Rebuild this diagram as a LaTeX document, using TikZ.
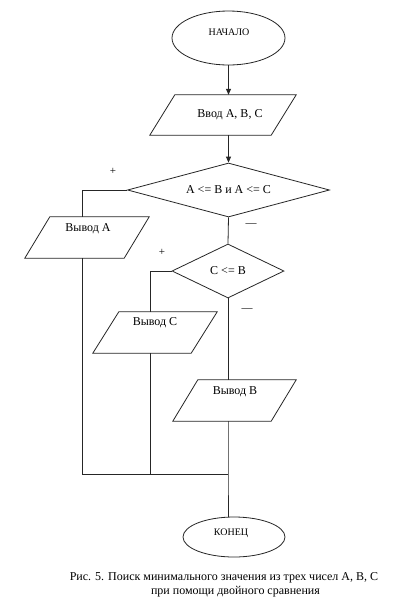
\documentclass[tikz,border=0pt]{standalone}
\usepackage{fontspec}
\setmainfont{Liberation Serif}
\usetikzlibrary{shapes.geometric,arrows.meta,calc}
\newcommand{\drawpara}[2]{\draw[ln] ([xshift=#2]#1.north west) -- (#1.north east) -- ([xshift=-#2]#1.south east) -- (#1.south west) -- cycle;}
\begin{document}
\begin{tikzpicture}[x=1pt,y=-1pt,
  ln/.style={draw=black!85,line width=0.8pt},
  arr/.style={ln,-{Triangle[length=6pt,width=5pt]}},
  term/.style={ellipse,ln,inner sep=0pt},
  iobox/.style={rectangle,draw=none,inner sep=0pt,minimum height=41pt},
  decbox/.style={diamond,ln,inner sep=0pt,font=\fontsize{12}{14}\selectfont},
  txt/.style={inner sep=0pt,font=\fontsize{12}{14}\selectfont},
  smalltxt/.style={inner sep=0pt,font=\fontsize{10}{12}\selectfont},
  sign/.style={inner sep=0pt,font=\fontsize{11}{12}\selectfont}]
\fill[white] (0,0) rectangle (403,606);
\useasboundingbox (0,0) rectangle (403,606);

% terminals
\node[term,minimum width=113pt,minimum height=54pt] (start) at (228.5,38) {};
\node[smalltxt] (tstart) at (229,32) {НАЧАЛО};
\node[term,minimum width=102pt,minimum height=40pt] (stop) at (234,537) {};
\node[smalltxt] (tstop) at (231,533) {КОНЕЦ};

% input
\node[iobox,minimum width=146pt,minimum height=40pt] (in) at (223,115) {};
\drawpara{in}{25}
\node[txt] (tin) at (230,115) {Ввод A, B, C};

% decisions
\node[decbox,shape aspect=3.7,minimum width=202pt,minimum height=54pt] (d1) at (228.5,190) {A <= B и A <= C};
\node[decbox,shape aspect=2.1,minimum width=112pt,minimum height=54pt] (d2) at (228,271) {C <= B};

% outputs
\node[iobox,minimum width=124pt] (outA) at (87,237.5) {};
\drawpara{outA}{25}
\node[txt] (toutA) at (88,229) {Вывод A};
\node[iobox,minimum width=124pt] (outC) at (155,332.5) {};
\drawpara{outC}{26}
\node[txt] (toutC) at (155,323) {Вывод C};
\node[iobox,minimum width=123pt] (outB) at (234.5,400.5) {};
\drawpara{outB}{25}
\node[txt] (toutB) at (235,392) {Вывод B};

\coordinate (j) at (228,474);

% connectors
\draw[arr] (start.south) -- (start.south |- in.north);
\draw[arr] (d1.north |- in.south) -- (d1.north);
\draw[ln] (d1.west) -| ([xshift=-5pt]outA.north);
\draw[ln] ([xshift=-5pt]outA.south) |- (j);
\draw[ln] (d1.south) -- (d2.north);
\draw[ln] (d2.west) -| ([xshift=-5pt]outC.north);
\draw[ln] ([xshift=-5pt]outC.south) -- ([xshift=-5pt]outC.south |- j);
\draw[ln] (d2.south) -- (d2.south |- outB.north);
\draw[ln] (d2.south |- outB.south) -- (j) -- (j |- stop.north);

% branch labels
\node[sign] (p1) at (113,171) {+};
\node[sign] (p2) at (162,252) {+};
\node[sign] (m1) at (251,225) {—};
\node[sign] (m2) at (247,310) {—};

% caption
\node[txt] (cap1) at (224,578) {Рис. 5. Поиск минимального значения из трех чисел A, B, C};
\node[txt] (cap2) at (235.5,592) {при помощи двойного сравнения};
\end{tikzpicture}
\end{document}
